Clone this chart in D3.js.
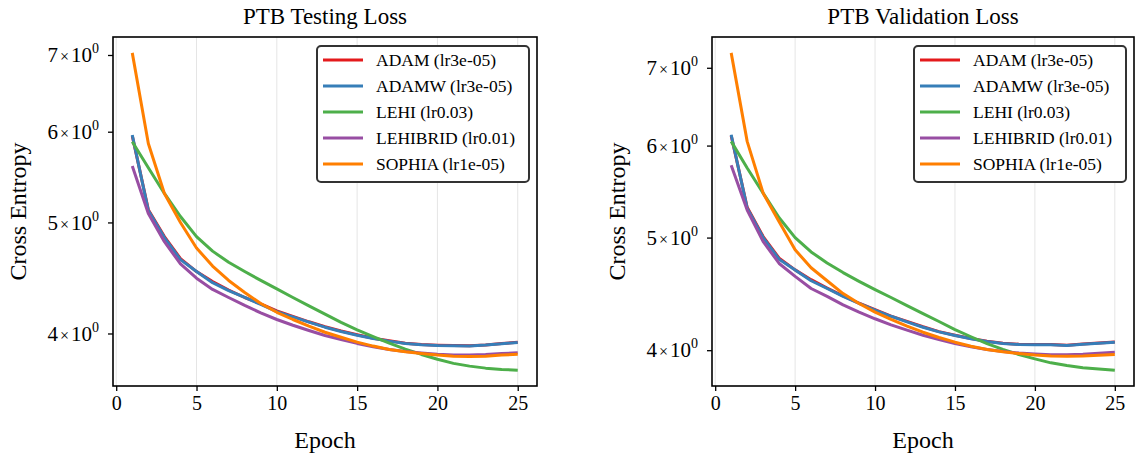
<!DOCTYPE html>
<html>
<head>
<meta charset="utf-8">
<script src="https://cdn.jsdelivr.net/npm/d3@7"></script>
<style>
    body { margin: 0; background: #fff; }
    text { font-family: "Liberation Serif", "Times New Roman", serif; fill: #000; }
</style>
</head>
<body>
<svg id="chart" width="1135" height="460"></svg>
<script>
'use strict';

var epochs = [1, 2, 3, 4, 5, 6, 7, 8, 9, 10, 11, 12, 13, 14, 15, 16, 17, 18, 19, 20, 21, 22, 23, 24, 25];

var seriesNames = ['ADAM (lr3e-05)', 'ADAMW (lr3e-05)', 'LEHI (lr0.03)', 'LEHIBRID (lr0.01)', 'SOPHIA (lr1e-05)'];
var seriesColors = ['#e41a1c', '#377eb8', '#4daf4a', '#984ea3', '#ff7f00'];

var panelTitles = ['PTB Testing Loss', 'PTB Validation Loss'];

var xTicks = [0, 5, 10, 15, 20, 25];
var yTicks = [4, 5, 6, 7];

// testing loss
var testAdam = [5.95, 5.13, 4.86, 4.65, 4.53, 4.44, 4.365, 4.30, 4.245, 4.185, 4.14, 4.095, 4.055, 4.02, 3.99, 3.962, 3.942, 3.923, 3.912, 3.907, 3.904, 3.902, 3.909, 3.92, 3.93];
var testAdamW = [5.96, 5.12, 4.85, 4.64, 4.53, 4.43, 4.36, 4.30, 4.24, 4.18, 4.136, 4.092, 4.051, 4.016, 3.986, 3.96, 3.939, 3.921, 3.91, 3.905, 3.903, 3.9, 3.908, 3.919, 3.929];
var testLehi = [5.88, 5.58, 5.30, 5.06, 4.86, 4.72, 4.615, 4.53, 4.45, 4.375, 4.30, 4.228, 4.158, 4.09, 4.03, 3.975, 3.924, 3.876, 3.835, 3.798, 3.767, 3.746, 3.731, 3.721, 3.716];
var testLehibrid = [5.60, 5.09, 4.81, 4.60, 4.47, 4.37, 4.30, 4.232, 4.169, 4.114, 4.067, 4.024, 3.984, 3.952, 3.921, 3.895, 3.874, 3.858, 3.846, 3.836, 3.83, 3.83, 3.834, 3.842, 3.848];
var testSophia = [7.03, 5.86, 5.30, 5.00, 4.75, 4.58, 4.45, 4.343, 4.248, 4.174, 4.114, 4.059, 4.01, 3.97, 3.931, 3.90, 3.874, 3.856, 3.843, 3.83, 3.822, 3.82, 3.822, 3.83, 3.836];

// validation loss
var valAdam = [6.12, 5.31, 5.01, 4.80, 4.69, 4.60, 4.525, 4.455, 4.39, 4.335, 4.28, 4.235, 4.19, 4.15, 4.12, 4.093, 4.072, 4.055, 4.047, 4.045, 4.045, 4.04, 4.05, 4.057, 4.066];
var valAdamW = [6.13, 5.30, 5.00, 4.79, 4.69, 4.59, 4.52, 4.45, 4.388, 4.33, 4.278, 4.231, 4.186, 4.148, 4.118, 4.091, 4.07, 4.053, 4.045, 4.043, 4.043, 4.037, 4.048, 4.056, 4.064];
var valLehi = [6.05, 5.74, 5.46, 5.20, 5.00, 4.86, 4.755, 4.665, 4.585, 4.51, 4.44, 4.37, 4.30, 4.234, 4.167, 4.108, 4.053, 4.006, 3.966, 3.932, 3.901, 3.88, 3.863, 3.854, 3.845];
var valLehibrid = [5.77, 5.28, 4.96, 4.75, 4.63, 4.52, 4.45, 4.376, 4.313, 4.257, 4.206, 4.162, 4.12, 4.086, 4.053, 4.027, 4.006, 3.99, 3.978, 3.97, 3.964, 3.964, 3.968, 3.975, 3.984];
var valSophia = [7.21, 6.05, 5.46, 5.16, 4.88, 4.71, 4.59, 4.475, 4.388, 4.313, 4.251, 4.195, 4.145, 4.102, 4.064, 4.032, 4.006, 3.987, 3.974, 3.963, 3.955, 3.953, 3.955, 3.96, 3.966];

var panels = [
    {title: panelTitles[0], left: 113, right: 537, series: [testAdam, testAdamW, testLehi, testLehibrid, testSophia]},
    {title: panelTitles[1], left: 712, right: 1134, series: [valAdam, valAdamW, valLehi, valLehibrid, valSophia]}
];

var plotTop = 37,
    plotBottom = 386;

var svg = d3.select('#chart');

panels.forEach(drawPanel);

function drawPanel(p) {
    var g = svg.append('g');

    // matplotlib style 5% margins
    var xPad = (d3.max(epochs) - d3.min(epochs)) * 0.05;
    var x = d3.scaleLinear()
        .domain([d3.min(epochs) - xPad, d3.max(epochs) + xPad])
        .range([p.left, p.right]);

    var all = [].concat.apply([], p.series);
    var lo = Math.log(d3.min(all)),
        hi = Math.log(d3.max(all)),
        lPad = (hi - lo) * 0.05;
    var y = d3.scaleLog()
        .domain([Math.exp(lo - lPad), Math.exp(hi + lPad)])
        .range([plotBottom, plotTop]);

    //grid
    g.append('g').selectAll('line')
        .data(xTicks)
        .enter().append('line')
        .attr('x1', function (d) { return x(d); })
        .attr('x2', function (d) { return x(d); })
        .attr('y1', plotTop)
        .attr('y2', plotBottom)
        .attr('stroke', '#e5e5e5')
        .attr('stroke-width', 1);

    //lines
    var line = d3.line()
        .x(function (d, i) { return x(epochs[i]); })
        .y(function (d) { return y(d); });

    p.series.forEach(function (s, i) {
        g.append('path')
            .datum(s)
            .attr('d', line)
            .attr('fill', 'none')
            .attr('stroke', seriesColors[i])
            .attr('stroke-width', 3)
            .attr('stroke-linejoin', 'round');
    });

    //x axis
    var xAxis = g.append('g')
        .attr('transform', 'translate(0,' + plotBottom + ')')
        .call(d3.axisBottom(x).tickValues(xTicks).tickSize(5).tickPadding(5));
    xAxis.select('.domain').remove();
    xAxis.selectAll('line').attr('stroke', '#000').attr('stroke-width', 1.3);
    xAxis.selectAll('text')
        .attr('font-size', 20)
        .attr('font-family', '"Liberation Serif", serif');

    //y axis with 4x10^0 style labels
    var yAxis = g.append('g')
        .attr('transform', 'translate(' + p.left + ',0)')
        .call(d3.axisLeft(y).tickValues(yTicks).tickSize(5).tickPadding(9));
    yAxis.select('.domain').remove();
    yAxis.selectAll('line').attr('stroke', '#000').attr('stroke-width', 1.3);
    yAxis.selectAll('text')
        .attr('font-size', 21)
        .attr('font-family', '"Liberation Serif", serif')
        .text(null)
        .each(function (d) {
            var t = d3.select(this);
            t.append('tspan').text(d);
            t.append('tspan').attr('font-size', 16).attr('dx', 2).text('\u00d7');
            t.append('tspan').attr('dx', 2).text('10');
            t.append('tspan').attr('font-size', 14).attr('dy', -9).text('0');
        });

    //frame
    g.append('rect')
        .attr('x', p.left)
        .attr('y', plotTop)
        .attr('width', p.right - p.left)
        .attr('height', plotBottom - plotTop)
        .attr('fill', 'none')
        .attr('stroke', '#000')
        .attr('stroke-width', 1.6);

    //labels
    var cx = (p.left + p.right) / 2;
    g.append('text')
        .attr('x', cx)
        .attr('y', 24)
        .attr('text-anchor', 'middle')
        .attr('font-size', 23)
        .text(p.title);

    g.append('text')
        .attr('x', cx)
        .attr('y', 448)
        .attr('text-anchor', 'middle')
        .attr('font-size', 24)
        .text('Epoch');

    g.append('text')
        .attr('transform', 'translate(' + (p.left - 87) + ',' + ((plotTop + plotBottom) / 2) + ') rotate(-90)')
        .attr('text-anchor', 'middle')
        .attr('font-size', 24)
        .text('Cross Entropy');

    //legend
    var lw = 212, lh = 136;
    var lg = g.append('g')
        .attr('transform', 'translate(' + (p.right - 8 - lw) + ',' + (plotTop + 9) + ')');
    lg.append('rect')
        .attr('width', lw)
        .attr('height', lh)
        .attr('rx', 4)
        .attr('fill', '#fff')
        .attr('stroke', '#333')
        .attr('stroke-width', 2);

    var row = lg.selectAll('g.row')
        .data(seriesNames)
        .enter().append('g')
        .attr('class', 'row')
        .attr('transform', function (d, i) { return 'translate(0,' + (14 + i * 26) + ')'; });
    row.append('line')
        .attr('x1', 6)
        .attr('x2', 46)
        .attr('stroke', function (d, i) { return seriesColors[i]; })
        .attr('stroke-width', 3);
    row.append('text')
        .attr('x', 59)
        .attr('dy', '0.35em')
        .attr('font-size', 17.5)
        .text(function (d) { return d; });
}
</script>
</body>
</html>
